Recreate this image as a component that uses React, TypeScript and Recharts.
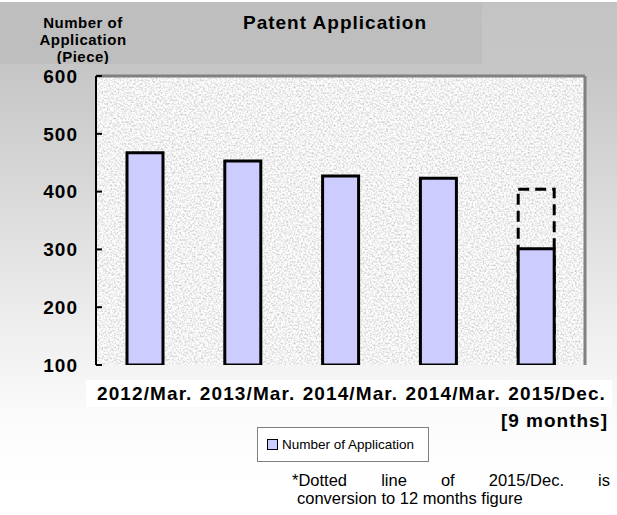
import React from "react";
import { BarChart, Bar, XAxis, YAxis, CartesianGrid, Legend } from "recharts";

const periods = ["2012/Mar.", "2013/Mar.", "2014/Mar.", "2014/Mar.", "2015/Dec."];
const applications = [467, 453, 427, 423, 301];
// 2015/Dec. covers 9 months; dotted box = converted to 12 months
const converted12m = [null, null, null, null, 404];
const yTicks = [100, 200, 300, 400, 500, 600];
const edgeTicks = [0, 1, 2, 3, 4, 5];

const data = periods.map((period, i) => ({
  period,
  applications: applications[i],
  converted: converted12m[i],
}));

const FONT = '"Liberation Sans", Arial, Helvetica, sans-serif';

const NoLabel = () => <g />;

function LegendBox(props: any) {
  const items = (props.payload || []).filter((p: any) => p.type !== "none");
  return (
    <div
      style={{
        boxSizing: "border-box",
        width: 172,
        height: 35,
        border: "1px solid #808080",
        background: "#fff",
        fontFamily: FONT,
        fontSize: 13.5,
        color: "#000",
        display: "flex",
        alignItems: "center",
        paddingLeft: 9,
      }}
    >
      {items.map((item: any) => (
        <span key={item.value} style={{ display: "flex", alignItems: "center" }}>
          <span
            style={{
              display: "inline-block",
              width: 9,
              height: 9,
              border: "1px solid #000",
              background: item.color,
              marginRight: 4,
            }}
          />
          {item.value}
        </span>
      ))}
    </div>
  );
}

export default function App() {
  return (
    <div
      style={{
        position: "absolute",
        left: 0,
        top: 0,
        width: 617,
        height: 515,
        overflow: "hidden",
        background:
          "linear-gradient(180deg, #ffffff 0px, #ffffff 2px, #c4c4c4 2px, #c6c6c6 70px, #d4d4d4 160px, #e6e6e6 270px, #f4f4f4 370px, #fbfbfb 420px, #ffffff 480px)",
        fontFamily: FONT,
      }}
    >
      <svg width={0} height={0} style={{ position: "absolute" }}>
        <defs>
          <filter
            id="graniteNoise"
            x="0"
            y="0"
            width="100%"
            height="100%"
            colorInterpolationFilters="sRGB"
          >
            <feTurbulence type="fractalNoise" baseFrequency="0.55" numOctaves={2} seed={7} stitchTiles="stitch" />
            <feColorMatrix
              type="matrix"
              values="0.45 0 0 0 0.72  0.45 0 0 0 0.72  0.45 0 0 0 0.72  0 0 0 0 1"
            />
          </filter>
          <pattern id="granite" patternUnits="userSpaceOnUse" width={256} height={256}>
            <rect width={256} height={256} filter="url(#graniteNoise)" />
          </pattern>
        </defs>
      </svg>

      {/* title block */}
      <div
        style={{
          position: "absolute",
          left: 0,
          top: 2,
          width: 482,
          height: 62,
          background: "#bebebe",
          overflow: "hidden",
        }}
      >
        <div
          style={{
            position: "absolute",
            left: 23,
            top: 12,
            width: 120,
            textAlign: "center",
            fontSize: 15,
            fontWeight: "bold",
            lineHeight: "17px",
            letterSpacing: 0.5,
          }}
        >
          Number of
          <br />
          Application
          <br />
          (Piece)
        </div>
        <div
          style={{
            position: "absolute",
            left: 215,
            top: 11,
            width: 240,
            textAlign: "center",
            fontSize: 19,
            fontWeight: "bold",
            lineHeight: "19px",
            letterSpacing: 1,
          }}
        >
          Patent Application
        </div>
      </div>

      <div style={{ position: "absolute", left: 0, top: 0 }}>
        <BarChart
          width={617}
          height={515}
          data={data}
          margin={{ top: 75, right: 31, bottom: 149, left: 95 }}
          barSize={36}
          barGap={-36}
        >
          <CartesianGrid horizontal={false} vertical={false} fill="url(#granite)" fillOpacity={1} />
          <XAxis dataKey="period" hide />
          <XAxis
            xAxisId="edges"
            type="number"
            domain={[0, periods.length]}
            ticks={edgeTicks}
            allowDataOverflow
            height={1}
            tick={NoLabel}
            tickSize={-6}
            axisLine={{ stroke: "#000", strokeWidth: 2 }}
            tickLine={{ stroke: "#000", strokeWidth: 2 }}
          />
          <XAxis
            xAxisId="top"
            orientation="top"
            type="number"
            domain={[0, periods.length]}
            allowDataOverflow
            height={1}
            tick={false}
            tickLine={false}
            axisLine={{ stroke: "#808080", strokeWidth: 3 }}
          />
          <YAxis
            domain={[100, 600]}
            ticks={yTicks}
            allowDataOverflow
            width={1}
            tickSize={-6}
            tickMargin={24}
            axisLine={{ stroke: "#000", strokeWidth: 2 }}
            tickLine={{ stroke: "#000", strokeWidth: 2 }}
            tick={{
              fill: "#000",
              fontSize: 19,
              fontWeight: "bold",
              fontFamily: FONT,
              letterSpacing: 1,
            }}
          />
          <YAxis
            yAxisId="right"
            orientation="right"
            domain={[100, 600]}
            allowDataOverflow
            width={1}
            tick={false}
            tickLine={false}
            axisLine={{ stroke: "#808080", strokeWidth: 3 }}
          />
          <Bar
            dataKey="converted"
            fill="none"
            stroke="#000"
            strokeWidth={3}
            strokeDasharray="11 6"
            legendType="none"
            isAnimationActive={false}
          />
          <Bar
            dataKey="applications"
            name="Number of Application"
            fill="#ccccff"
            stroke="#000"
            strokeWidth={3}
            isAnimationActive={false}
          />
          <Legend
            verticalAlign="middle"
            align="center"
            wrapperStyle={{ left: 257, top: 427, width: 172, height: 35 }}
            content={LegendBox}
          />
        </BarChart>
      </div>

      {/* category labels, set as one text line like the source */}
      <div
        style={{
          position: "absolute",
          left: 86,
          top: 380,
          height: 27,
          paddingLeft: 11,
          paddingRight: 6,
          background: "#ffffff",
          whiteSpace: "pre",
          fontSize: 19,
          fontWeight: "bold",
          lineHeight: "27px",
          letterSpacing: 1.1,
          wordSpacing: 1,
        }}
      >
        {periods.join(" ")}
      </div>

      <div
        style={{
          position: "absolute",
          right: 9,
          top: 410,
          fontSize: 19,
          fontWeight: "bold",
          lineHeight: "22px",
          letterSpacing: 1,
        }}
      >
        [9 months]
      </div>

      <div
        style={{
          position: "absolute",
          left: 292,
          top: 472,
          width: 318,
          fontSize: 16.5,
          lineHeight: "17.5px",
        }}
      >
        <div style={{ textAlign: "justify", textAlignLast: "justify" }}>*Dotted line of 2015/Dec. is</div>
        <div style={{ paddingLeft: 5 }}>conversion to 12 months figure</div>
      </div>
    </div>
  );
}
